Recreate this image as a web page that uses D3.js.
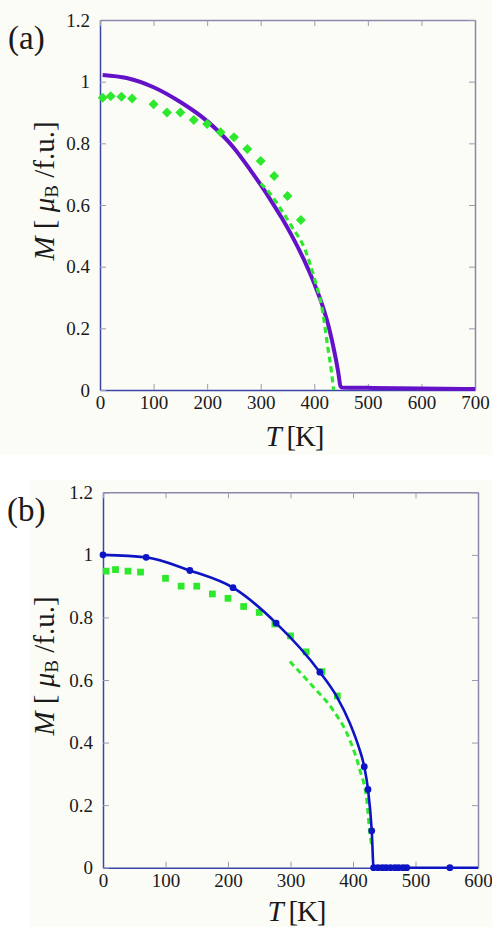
<!DOCTYPE html>
<html>
<head>
<meta charset="utf-8">
<script src="https://cdn.jsdelivr.net/npm/d3@7"></script>
<style>
  body { margin: 0; background: #ffffff; }
  svg { display: block; }
  svg text { font-family: "Liberation Serif", "Times New Roman", serif !important; fill: #1a1a1a; }
</style>
</head>
<body>
<div id="vis"></div>
<script>
const width = 492;
const height = 927;

// tick labels
const yTicks = [0, 0.2, 0.4, 0.6, 0.8, 1, 1.2];
const yTickLabels = ["0", "0.2", "0.4", "0.6", "0.8", "1", "1.2"];
const xTicksA = [0, 100, 200, 300, 400, 500, 600, 700];
const xTicksB = [0, 100, 200, 300, 400, 500, 600];

// (a) experiment (diamonds)
const diamondT = [5, 20, 40, 60, 100, 125, 150, 175, 200, 225, 250, 275, 300, 325, 350, 375];
const diamondM = [0.948, 0.953, 0.951, 0.945, 0.927, 0.90, 0.90, 0.876, 0.863, 0.836, 0.82, 0.782, 0.743, 0.694, 0.629, 0.551];
// (a) calculated curve (purple)
const purpleT = [5, 50, 100, 150, 200, 250, 280, 300, 320, 340, 360, 380, 400, 415, 428, 438, 445, 449, 452, 500, 600, 700];
const purpleM = [1.022, 1.012, 0.982, 0.934, 0.872, 0.785, 0.715, 0.665, 0.612, 0.556, 0.494, 0.425, 0.345, 0.275, 0.198, 0.12, 0.055, 0.012, 0.008, 0.007, 0.005, 0.003];
// (a) fit near Tc (green dashed)
const dashAT = [300, 317, 340, 358, 383, 401, 414, 426, 432, 436];
const dashAM = [0.67, 0.638, 0.58, 0.53, 0.454, 0.357, 0.27, 0.13, 0.06, 0];

// (b) experiment (squares)
const squareT = [5, 20, 40, 60, 100, 125, 150, 175, 200, 225, 250, 275, 300, 325, 350, 375];
const squareM = [0.948, 0.953, 0.948, 0.945, 0.925, 0.90, 0.90, 0.875, 0.861, 0.835, 0.816, 0.779, 0.741, 0.69, 0.627, 0.549];
// (b) calculated points (blue circles)
const circleT = [0, 69, 139, 208, 277, 347, 418, 424, 430, 433, 440, 447, 453, 460, 467, 473, 480, 486, 555];
const circleM = [1.0, 0.992, 0.95, 0.895, 0.782, 0.625, 0.323, 0.25, 0.118, 0, 0, 0, 0, 0, 0, 0, 0, 0, 0];
// (b) calculated curve (blue line)
const blueT = [0, 69, 139, 208, 277, 347, 374, 395, 409, 418, 424, 430, 433, 600];
const blueM = [1.0, 0.992, 0.95, 0.895, 0.782, 0.625, 0.547, 0.462, 0.387, 0.323, 0.25, 0.118, 0, 0];
// (b) fit near Tc (green dashed)
const dashBT = [299, 336, 368, 395, 411, 422, 427, 430];
const dashBM = [0.659, 0.579, 0.504, 0.408, 0.312, 0.216, 0.11, 0.07];

const green = "#2ee82e";
const purple = "#6412c8";
const blue = "#0c14c4";
const zip = (a, b) => a.map((t, i) => [t, b[i]]);

const svg = d3.select("#vis").append("svg")
  .attr("width", width)
  .attr("height", height);

// cream backgrounds of the two figure panels
svg.append("rect").attr("x", 0).attr("y", 0).attr("width", width).attr("height", 455).attr("fill", "#fcfcf7");
svg.append("rect").attr("x", 30).attr("y", 480).attr("width", width - 30).attr("height", height - 480).attr("fill", "#fcfcf7");

function drawFrame(g, x, y, xTicks, label, labelPos, yLabelY, tLabelY, tLabelX) {
  const [x0, x1] = x.range();
  const [y0, y1] = y.range();

  g.append("g").attr("transform", `translate(0,${y0})`)
    .call(d3.axisBottom(x).tickValues(xTicks).tickSizeInner(-6).tickSizeOuter(0).tickPadding(6))
    .call(s => s.select(".domain").attr("stroke", "#3c44aa").attr("stroke-width", 1.5));
  g.append("g").attr("transform", `translate(${x0},0)`)
    .call(d3.axisLeft(y).tickValues(yTicks).tickFormat((d, i) => yTickLabels[i]).tickSizeInner(-6).tickSizeOuter(0).tickPadding(10))
    .call(s => s.select(".domain").attr("stroke", "#3c44aa").attr("stroke-width", 1.5));
  g.append("g").attr("transform", `translate(0,${y1})`)
    .call(d3.axisTop(x).tickValues(xTicks).tickFormat("").tickSizeInner(-6).tickSizeOuter(0))
    .call(s => s.select(".domain").attr("stroke", "#8888aa").attr("stroke-width", 1.5));
  g.append("g").attr("transform", `translate(${x1},0)`)
    .call(d3.axisRight(y).tickValues(yTicks).tickFormat("").tickSizeInner(-6).tickSizeOuter(0))
    .call(s => s.select(".domain").attr("stroke", "#8888aa").attr("stroke-width", 1.5));

  g.selectAll(".tick line").attr("stroke", "#9a9ab4").attr("stroke-width", 1);
  g.selectAll(".tick text")
    .attr("font-size", 19)
    .attr("fill", "#1a1a1a");

  // panel letter
  g.append("text")
    .attr("x", labelPos[0]).attr("y", labelPos[1])
    .attr("font-size", 33)
    .text(label);

  // y axis title
  const yl = g.append("text")
    .attr("transform", `translate(54,${yLabelY}) rotate(-90)`)
    .attr("text-anchor", "middle")
    .attr("font-size", 29);
  yl.append("tspan").attr("font-style", "italic").text("M");
  yl.append("tspan").text(" [ ");
  yl.append("tspan").attr("font-style", "italic").text("μ");
  yl.append("tspan").attr("font-size", 19).attr("dy", 4).text("B");
  yl.append("tspan").attr("dy", -4).text(" /f.u.]");

  // x axis title
  const xl = g.append("text")
    .attr("x", tLabelX).attr("y", tLabelY)
    .attr("text-anchor", "middle")
    .attr("font-size", 29)
    .attr("textLength", 59)
    .attr("lengthAdjust", "spacing");
  xl.append("tspan").attr("font-style", "italic").text("T");
  xl.append("tspan").text(" [K]");
}

// ----- panel (a)
const xA = d3.scaleLinear().domain([0, 700]).range([100, 475]);
const yA = d3.scaleLinear().domain([0, 1.2]).range([390, 20]);
const gA = svg.append("g");
drawFrame(gA, xA, yA, xTicksA, "(a)", [8, 49], 191, 446, 295);

const lineA = d3.line().x(d => xA(d[0])).y(d => yA(d[1])).curve(d3.curveMonotoneX);
gA.append("path")
  .datum(zip(purpleT, purpleM))
  .attr("d", lineA)
  .attr("fill", "none")
  .attr("stroke", purple)
  .attr("stroke-width", 4);
gA.append("path")
  .datum(zip(dashAT, dashAM))
  .attr("d", lineA)
  .attr("fill", "none")
  .attr("stroke", green)
  .attr("stroke-width", 3.2)
  .attr("stroke-dasharray", "6,4");
gA.selectAll(".diamond")
  .data(zip(diamondT, diamondM))
  .join("path")
  .attr("class", "diamond")
  .attr("transform", d => `translate(${xA(d[0])},${yA(d[1])}) rotate(45)`)
  .attr("d", d3.symbol(d3.symbolSquare, 50))
  .attr("fill", green);

// ----- panel (b)
const xB = d3.scaleLinear().domain([0, 600]).range([103, 478]);
const yB = d3.scaleLinear().domain([0, 1.2]).range([867.7, 492.3]);
const gB = svg.append("g");
drawFrame(gB, xB, yB, xTicksB, "(b)", [7, 521], 666, 921, 297);

const lineB = d3.line().x(d => xB(d[0])).y(d => yB(d[1])).curve(d3.curveMonotoneX);
gB.selectAll(".square")
  .data(zip(squareT, squareM))
  .join("path")
  .attr("class", "square")
  .attr("transform", d => `translate(${xB(d[0])},${yB(d[1])})`)
  .attr("d", d3.symbol(d3.symbolSquare, 46))
  .attr("fill", green);
gB.append("path")
  .datum(zip(dashBT, dashBM))
  .attr("d", lineB)
  .attr("fill", "none")
  .attr("stroke", green)
  .attr("stroke-width", 3)
  .attr("stroke-dasharray", "6,4");
gB.append("path")
  .datum(zip(blueT, blueM))
  .attr("d", lineB)
  .attr("fill", "none")
  .attr("stroke", blue)
  .attr("stroke-width", 2.6);
gB.selectAll(".dot")
  .data(zip(circleT, circleM))
  .join("circle")
  .attr("class", "dot")
  .attr("cx", d => xB(d[0]))
  .attr("cy", d => yB(d[1]))
  .attr("r", 3.4)
  .attr("fill", blue);
</script>
</body>
</html>
